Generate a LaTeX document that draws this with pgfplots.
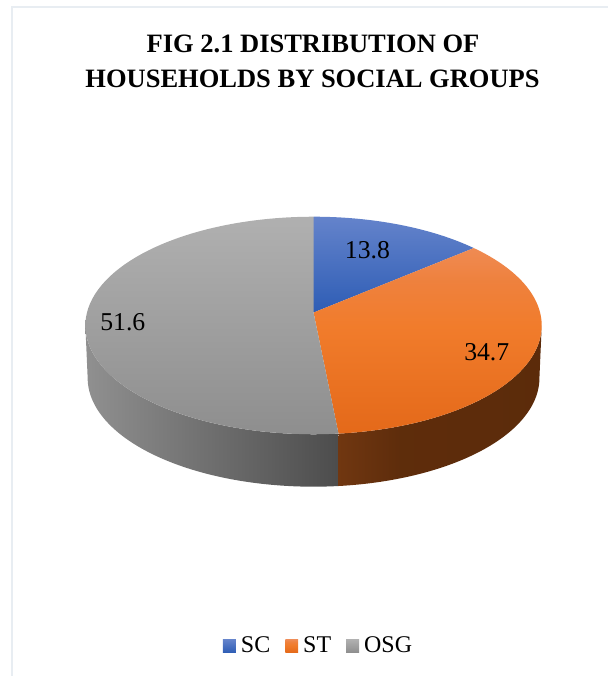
\documentclass[border=0pt]{standalone}
\usepackage{pgfplots}
\usepackage{pgfplotstable}
\usepackage{fontspec}
\pgfplotsset{compat=1.18}
\setmainfont{Liberation Serif}

% Share of households per social group (per cent)
\pgfplotstableread{
group value
SC    13.8
ST    34.7
OSG   51.6
}\sharetable

\definecolor{framecol}{HTML}{E8EDF2}
\definecolor{bluetop}{HTML}{6483CB}
\definecolor{bluebot}{HTML}{2E5DB5}
\definecolor{greytop}{HTML}{B0B0B0}
\definecolor{greybot}{HTML}{8E8E8E}

\pgfdeclareverticalshading{orangetopface}{100bp}{
  rgb(0bp)=(0.894,0.412,0.100);
  rgb(25bp)=(0.894,0.412,0.100);
  rgb(54bp)=(0.945,0.486,0.170);
  rgb(66bp)=(0.935,0.505,0.240);
  rgb(75bp)=(0.937,0.545,0.325);
  rgb(100bp)=(0.937,0.545,0.325)}
\pgfdeclarehorizontalshading{greyside}{100bp}{
  rgb(0bp)=(0.565,0.565,0.565);
  rgb(25bp)=(0.565,0.565,0.565);
  rgb(75bp)=(0.30,0.30,0.30);
  rgb(100bp)=(0.30,0.30,0.30)}
\pgfdeclarehorizontalshading{orangeside}{100bp}{
  rgb(0bp)=(0.44,0.215,0.065);
  rgb(25bp)=(0.44,0.215,0.065);
  rgb(40bp)=(0.37,0.175,0.045);
  rgb(75bp)=(0.36,0.17,0.04);
  rgb(100bp)=(0.36,0.17,0.04)}

% Pie geometry in pixels: apex, half axes and the perspective factor of the disc
\def\apexx{313}\def\apexy{312}
\def\halfx{226.9}\def\halfy{107.4}\def\persp{0.119}
\def\thick{52.5}\def\shrink{0.99}

% Appends one rim point at pie angle #1 to \ptlist; #2 = drop, #3 = x scale
\newcommand\rimpoint[3]{%
  \pgfmathsetmacro\rimden{1+\persp*cos(#1)}%
  \pgfmathsetmacro\rimx{\apexx+#3*\halfx*sin(#1)/\rimden}%
  \pgfmathsetmacro\rimy{\apexy-\halfy*cos(#1)/\rimden+#2}%
  \xdef\ptlist{\ptlist (\rimx,\rimy)}}
% Rim arc from angle #1 to angle #2
\newcommand\rimarc[4]{%
  \foreach \i in {0,...,72}{%
    \pgfmathsetmacro\ang{#1+(#2-#1)*\i/72}%
    \rimpoint{\ang}{#3}{#4}}}
% Flat top of one slice: apex plus rim arc
\newcommand\slicelist[2]{%
  \xdef\ptlist{(\apexx,\apexy)}\rimarc{#1}{#2}{0}{1}}
% Visible wall below a rim arc
\newcommand\walllist[2]{%
  \xdef\ptlist{}\rimarc{#1}{#2}{0}{1}\rimarc{#2}{#1}{\thick}{\shrink}}

% Slice boundaries, clockwise from twelve o'clock
\pgfplotstablegetelem{0}{value}\of\sharetable\let\valA\pgfplotsretval
\pgfplotstablegetelem{1}{value}\of\sharetable\let\valB\pgfplotsretval
\pgfplotstablegetelem{2}{value}\of\sharetable\let\valC\pgfplotsretval
\pgfmathsetmacro\total{\valA+\valB+\valC}
\pgfmathsetmacro\angA{3.6*(\valA/\total)*100}
\pgfmathsetmacro\angB{3.6*((\valA+\valB)/\total)*100}
\pgfmathsetmacro\tangR{acos(-\persp)}
\pgfmathsetmacro\tangL{360-\tangR}

\begin{document}
\begin{tikzpicture}
\begin{axis}[
  scale only axis, width=456.75pt, height=507.75pt,
  xmin=-1, xmax=608, ymin=-1, ymax=676, y dir=reverse,
  hide axis, clip=false,
  legend columns=-1,
  legend style={draw=none, fill=none, at={(axis cs:317,646)}, anchor=center,
    inner sep=0pt, outer sep=0pt,
    nodes={inner sep=0pt, font=\fontsize{18}{20}\selectfont},
    /tikz/every odd column/.append style={column sep=3.75pt},
    /tikz/every even column/.append style={column sep=11.25pt}},
  legend image code/.code={\path[#1] (0pt,-4.9pt) rectangle (9.75pt,4.9pt);},
]
% Canvas extent, so the page covers the whole chart area
\addplot[draw=none, forget plot] coordinates {(-1,-1) (608,676)};
% Chart frame
\addplot[framecol, line width=1.5pt, forget plot] coordinates {(10.7,676) (10.7,6) (608,6)};

% Walls of the disc
\walllist{\tangR}{\angB}
\edef\drawit{\noexpand\addplot[draw=none, shading=orangeside, forget plot] coordinates {\ptlist} -- cycle;}
\drawit
\walllist{\angB}{\tangL}
\edef\drawit{\noexpand\addplot[draw=none, shading=greyside, forget plot] coordinates {\ptlist} -- cycle;}
\drawit

% Slices of the top face
\slicelist{0}{\angA}
\edef\drawit{\noexpand\addplot[draw=none, top color=bluetop, bottom color=bluebot] coordinates {\ptlist} -- cycle;}
\drawit
\addlegendentry{SC}
\slicelist{\angA}{\angB}
\edef\drawit{\noexpand\addplot[draw=none, shading=orangetopface] coordinates {\ptlist} -- cycle;}
\drawit
\addlegendentry{ST}
\slicelist{\angB}{360}
\edef\drawit{\noexpand\addplot[draw=none, top color=greytop, bottom color=greybot] coordinates {\ptlist} -- cycle;}
\drawit
\addlegendentry{OSG}

% Value labels
\node[anchor=base, inner sep=0pt, font=\fontsize{19.3}{22}\selectfont] at (axis cs:367,258) {13.8};
\node[anchor=base, inner sep=0pt, font=\fontsize{19.3}{22}\selectfont] at (axis cs:486.5,360) {34.7};
\node[anchor=base, inner sep=0pt, font=\fontsize{19.3}{22}\selectfont] at (axis cs:122,330) {51.6};

% Title
\node[anchor=base, inner sep=0pt, font=\fontsize{19.9}{24}\selectfont\bfseries] at (axis cs:312.5,52) {FIG 2.1 DISTRIBUTION OF};
\node[anchor=base, inner sep=0pt, font=\fontsize{19.9}{24}\selectfont\bfseries] at (axis cs:312,87) {HOUSEHOLDS BY SOCIAL GROUPS};
\end{axis}
\end{tikzpicture}
\end{document}
